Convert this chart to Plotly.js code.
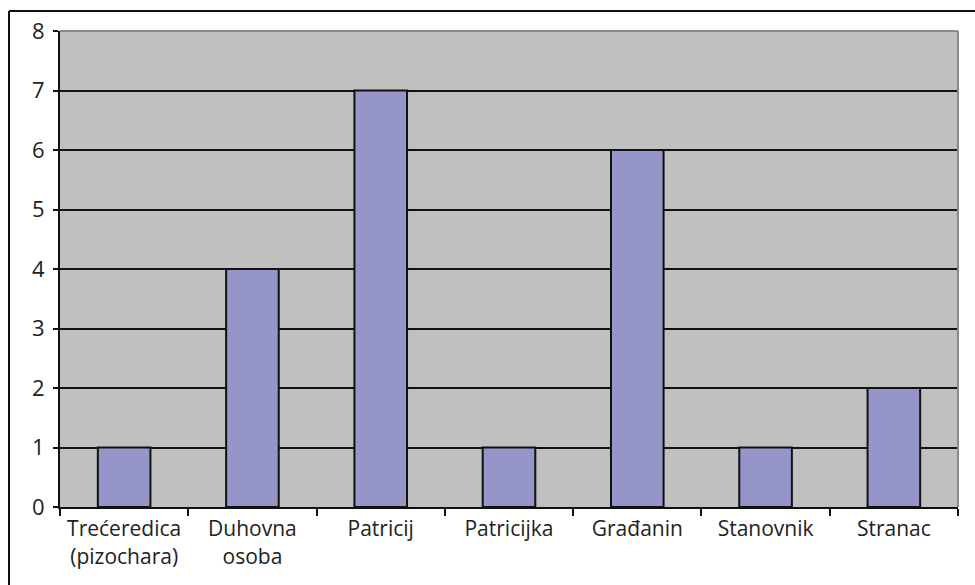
<!DOCTYPE html>
<html>
<head>
<meta charset="utf-8">
<script src="https://cdn.plot.ly/plotly-3.0.1.min.js"></script>
<style>html,body{margin:0;padding:0;background:#fff;}#chart{width:975px;height:585px;}</style>
</head>
<body>
<div id="chart"></div>
<script>
const categories = ["Trećeredica<br>(pizochara)", "Duhovna<br>osoba", "Patricij", "Patricijka", "Građanin", "Stanovnik", "Stranac"];
const counts = [1, 4, 7, 1, 6, 1, 2];
const yTicks = [0, 1, 2, 3, 4, 5, 6, 7, 8];

const trace = {
  type: 'bar',
  x: categories,
  y: counts,
  marker: {color: '#9595ca', line: {color: '#111', width: 2}},
  hoverinfo: 'x+y'
};

const layout = {
  width: 975, height: 585,
  margin: {l: 60, r: 17, t: 31, b: 78},
  paper_bgcolor: '#ffffff',
  plot_bgcolor: '#c0c0c0',
  bargap: 0.59,
  showlegend: false,
  font: {family: '"Open Sans", Lato, sans-serif', size: 21, color: '#222'},
  xaxis: {
    type: 'category',
    tickson: 'boundaries',
    tickangle: 0,
    ticks: 'outside', ticklen: 7, tickwidth: 2, tickcolor: '#111',
    showline: true, linecolor: '#111', linewidth: 2,
    showgrid: false,
    ticklabelstandoff: 2,
    tickfont: {family: '"Open Sans", sans-serif', size: 21, color: '#222'}
  },
  yaxis: {
    range: [0, 8],
    tickvals: yTicks,
    ticks: 'outside', ticklen: 5, tickwidth: 2, tickcolor: '#111',
    showline: true, linecolor: '#111', linewidth: 2,
    showgrid: true, gridcolor: '#111', gridwidth: 2,
    zeroline: false,
    ticklabelstandoff: 4,
    tickfont: {family: '"Open Sans", sans-serif', size: 22, color: '#222'}
  },
  shapes: [
    {type: 'line', xref: 'paper', yref: 'paper', x0: 0, x1: 1, y0: 1, y1: 1, line: {color: '#8a8a8a', width: 2}, layer: 'above'},
    {type: 'line', xref: 'paper', yref: 'paper', x0: 1, x1: 1, y0: 0, y1: 1, line: {color: '#8a8a8a', width: 2}, layer: 'above'},
    {type: 'line', xref: 'paper', yref: 'paper', x0: -51/898, x1: 1 + 20/898, y0: 1 + 20/476, y1: 1 + 20/476, line: {color: '#111', width: 2}},
    {type: 'line', xref: 'paper', yref: 'paper', x0: -51/898, x1: -51/898, y0: 1 + 20/476, y1: -80/476, line: {color: '#111', width: 2}}
  ]
};

Plotly.newPlot('chart', [trace], layout, {displayModeBar: false, staticPlot: true});
</script>
</body>
</html>
